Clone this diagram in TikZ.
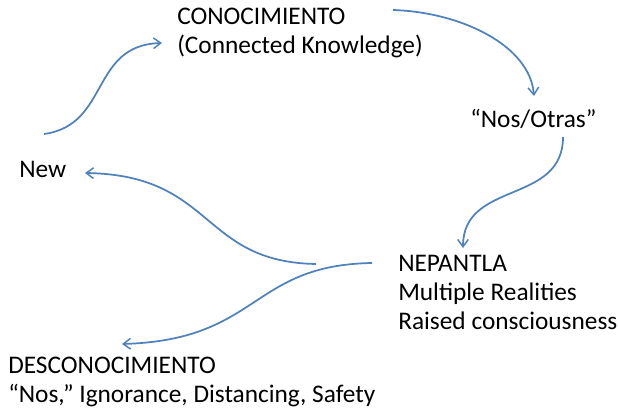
\documentclass[tikz,border=0pt]{standalone}
\usepackage{fontspec}
\setmainfont{Carlito}
\usetikzlibrary{arrows.meta}

\tikzset{
  flow/.style={color={rgb, 255:red, 79; green, 129; blue, 189}, draw opacity=1, line width=1.3,
    -{Straight Barb[length=5.5pt,width=8pt,line width=1.1pt]}},
  lbl/.style={anchor=base west, align=left, inner sep=0, font=\fontsize{19}{21.75}\selectfont}
}

\begin{document}
\begin{tikzpicture}[x=0.75pt,y=0.75pt,yscale=-1,xscale=1]
\useasboundingbox (0,0) rectangle (618,411);

% Text Node
\node [lbl] (cono) at (177,53) {CONOCIMIENTO\\(Connected Knowledge)};
% Text Node
\node [lbl] (nos) at (470,127) {“Nos/Otras”};
% Text Node
\node [lbl] (new) at (19,177) {New};
% Text Node
\node [lbl] (nepantla) at (398,329) {NEPANTLA\\Multiple Realities\\Raised consciousness};
% Text Node
\node [lbl] (descono) at (8,402) {DESCONOCIMIENTO\\“Nos,” Ignorance, Distancing, Safety};

% free ends of the curves
\coordinate (s1) at (44,134);
\coordinate (e1) at (162,43);
\coordinate (s2) at (393,10);
\coordinate (e2) at (534,96);
\coordinate (s3) at (563,137);
\coordinate (e3) at (463,248);
\coordinate (s4) at (316,264);
\coordinate (e4) at (85,173);
\coordinate (s5) at (372,263);
\coordinate (e5) at (122,344);

%Curve Lines: new to conocimiento
\draw [flow] (s1) .. controls (110,125) and (90,45) .. (e1);
%Curve Lines: conocimiento to nos/otras
\draw [flow] (s2) .. controls (460,12) and (530,45) .. (e2);
%Curve Lines: nos/otras to nepantla
\draw [flow] (s3) .. controls (563,205) and (463,180) .. (e3);
%Curve Lines: nepantla to new
\draw [flow] (s4) .. controls (200,262) and (215,175) .. (e4);
%Curve Lines: nepantla to desconocimiento
\draw [flow] (s5) .. controls (250,265) and (260,340) .. (e5);

\end{tikzpicture}
\end{document}
